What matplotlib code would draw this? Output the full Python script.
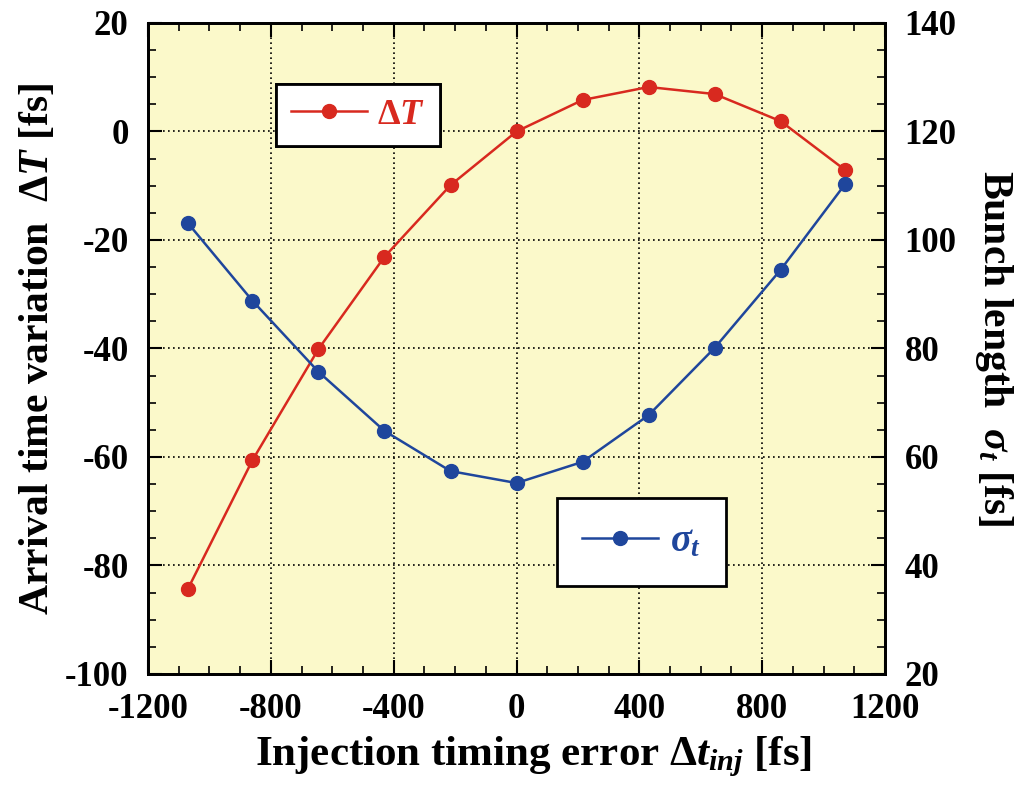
import numpy as np
import matplotlib
matplotlib.use('Agg')
import matplotlib.pyplot as plt
from matplotlib.ticker import MultipleLocator

plt.rcParams['font.family'] = ['Liberation Serif', 'DejaVu Serif']
plt.rcParams['font.weight'] = 'bold'
plt.rcParams['axes.labelweight'] = 'bold'
plt.rcParams['axes.unicode_minus'] = False
plt.rcParams['mathtext.fontset'] = 'custom'
plt.rcParams['mathtext.rm'] = 'Liberation Serif:bold'
plt.rcParams['mathtext.it'] = 'Liberation Serif:bold:italic'
plt.rcParams['mathtext.bf'] = 'Liberation Serif:bold'

# data
dt_inj = [-1070, -860, -645, -430, -215, 0, 215, 430, 645, 860, 1070]
delta_T = [-84.3, -60.6, -40.1, -23.1, -9.9, 0.0, 5.8, 8.2, 6.9, 1.9, -7.1]
sigma_t = [103.1, 88.8, 75.7, 64.8, 57.4, 55.2, 59.1, 67.7, 80.1, 94.5, 110.3]

red = '#D8291F'
blue = '#1F469C'
bg = '#FBF9CA'

fig = plt.figure(figsize=(10.16, 7.87), dpi=100)
ax = fig.add_axes([0.1457, 0.1436, 0.7254, 0.8272])
ax.set_facecolor(bg)
ax2 = ax.twinx()

l1, = ax.plot(dt_inj, delta_T, '-o', color=red, lw=1.8, ms=10, label=r'$\mathit{ΔT}$')
l2, = ax2.plot(dt_inj, sigma_t, '-o', color=blue, lw=1.8, ms=10, label=r'$\mathit{σ_t}$')

ax.set_xlim(-1200, 1200)
ax.set_ylim(-100, 20)
ax2.set_ylim(20, 140)

ax.xaxis.set_major_locator(MultipleLocator(400))
ax.xaxis.set_minor_locator(MultipleLocator(100))
ax.yaxis.set_major_locator(MultipleLocator(20))
ax.yaxis.set_minor_locator(MultipleLocator(5))
ax2.yaxis.set_major_locator(MultipleLocator(20))
ax2.yaxis.set_minor_locator(MultipleLocator(5))

ax.grid(True, which='major', color='black', linestyle=(0, (1, 2)), linewidth=1.2)

for a in (ax, ax2):
    a.tick_params(which='major', direction='in', length=10, width=1.5, labelsize=25, pad=14)
    a.tick_params(which='minor', direction='in', length=6, width=1.2)
    for s in a.spines.values():
        s.set_linewidth(2)
ax.tick_params(which='both', top=True)

ax.set_xlabel(r'Injection timing error $\mathit{Δt_{inj}}$ [fs]', fontsize=31, fontweight='bold', labelpad=6)
ax.xaxis.label.set_x(0.523)
ax.set_ylabel(r'Arrival time variation  $\mathit{ΔT}$ [fs]', fontsize=30, fontweight='bold', labelpad=6)
ax2.set_ylabel(r'Bunch length  $\mathit{σ_t}$ [fs]', fontsize=30, fontweight='bold', labelpad=12,
               rotation=270, va='bottom')

leg1 = ax.legend(handles=[l1], loc='upper left', bbox_to_anchor=(0.174, 0.906),
                 fontsize=26, labelcolor=red, fancybox=False, framealpha=1, borderaxespad=0,
                 edgecolor='black', handlelength=2.1, handletextpad=0.3, borderpad=0.4)
leg1.get_frame().set_linewidth(2)
ax.add_artist(leg1)
leg2 = ax2.legend(handles=[l2], loc='upper left', bbox_to_anchor=(0.555, 0.270),
                  fontsize=28, labelcolor=blue, fancybox=False, framealpha=1, borderaxespad=0,
                  edgecolor='black', handlelength=1.95, handletextpad=0.3, borderpad=0.65)
leg2.get_frame().set_linewidth(2)

fig.savefig('out.png', dpi=100)
